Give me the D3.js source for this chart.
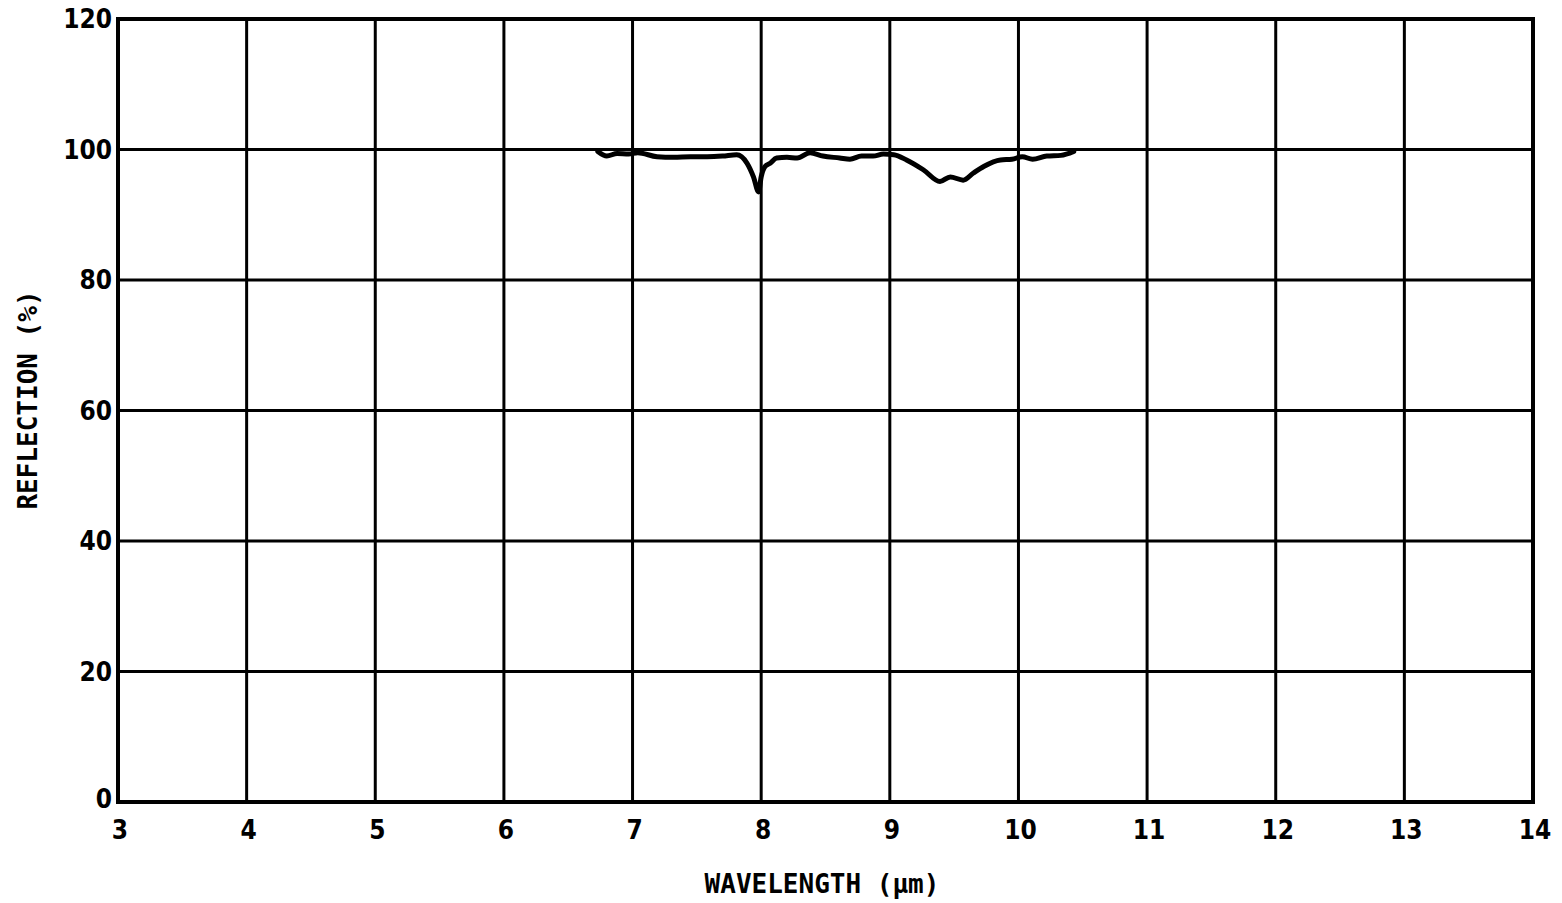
<!DOCTYPE html>
<html><head><meta charset="utf-8">
<script src="https://cdn.jsdelivr.net/npm/d3@7"></script>
<style>body{margin:0;background:#fff}svg{display:block}</style>
</head><body>
<script>
const wavelength = [6.73,6.80,6.88,6.97,7.04,7.19,7.32,7.45,7.58,7.70,7.81,7.89,7.94,7.98,8.00,8.03,8.07,8.12,8.20,8.28,8.38,8.48,8.61,8.69,8.78,8.87,8.95,9.03,9.13,9.26,9.39,9.47,9.57,9.65,9.73,9.86,9.95,10.03,10.11,10.22,10.33,10.43];
const reflection = [99.7,99.0,99.4,99.3,99.5,98.9,98.8,98.9,98.9,99.0,99.2,97.9,95.8,93.5,95.8,97.4,97.9,98.7,98.8,98.7,99.5,99.0,98.7,98.5,99.0,99.0,99.3,99.2,98.4,96.9,95.1,95.8,95.3,96.4,97.4,98.4,98.5,98.9,98.5,99.0,99.1,99.7];
const xTicks = [3,4,5,6,7,8,9,10,11,12,13,14];
const yTicks = [0,20,40,60,80,100,120];
const xTitle = "WAVELENGTH (µm)";
const yTitle = "REFLECTION (%)";

const W = 1562, H = 903;
const m = {l:118, r:29, t:19, b:101};
const svg = d3.select("body").append("svg").attr("width",W).attr("height",H);
const x = d3.scaleLinear().domain([3,14]).range([m.l, W-m.r]);
const y = d3.scaleLinear().domain([0,120]).range([H-m.b, m.t]);

const g = svg.append("g");
g.selectAll("line.vx").data(xTicks).join("line")
  .attr("x1",d=>x(d)).attr("x2",d=>x(d)).attr("y1",y(0)).attr("y2",y(120))
  .attr("stroke","#000").attr("stroke-width",3);
g.selectAll("line.hy").data(yTicks).join("line")
  .attr("y1",d=>y(d)).attr("y2",d=>y(d)).attr("x1",x(3)).attr("x2",x(14))
  .attr("stroke","#000").attr("stroke-width",3);
g.append("rect").attr("x",x(3)).attr("y",y(120)).attr("width",x(14)-x(3)).attr("height",y(0)-y(120))
  .attr("fill","none").attr("stroke","#000").attr("stroke-width",4);

const font = "'DejaVu Sans Condensed','DejaVu Sans',sans-serif";
g.selectAll("text.xt").data(xTicks).join("text")
  .attr("x",d=>x(d)+2).attr("y",y(0)+37).attr("text-anchor","middle")
  .attr("font-family",font).attr("font-weight","bold").attr("font-size",26).text(d=>d);
g.selectAll("text.yt").data(yTicks).join("text")
  .attr("x",x(3)-6).attr("y",d=>y(d)+(d===0?6:9)).attr("text-anchor","end")
  .attr("font-family",font).attr("font-weight","bold").attr("font-size",26).text(d=>d);

const line = d3.line().x((d,i)=>x(wavelength[i])).y(d=>y(d)).curve(d3.curveMonotoneX);
g.append("path").datum(reflection).attr("d",line).attr("fill","none")
  .attr("stroke","#000").attr("stroke-width",5).attr("stroke-linejoin","round").attr("stroke-linecap","round");

const tfont = "'DejaVu Sans Mono',monospace";
svg.append("text").attr("x",822).attr("y",893).attr("text-anchor","middle")
  .attr("font-family",tfont).attr("font-size",26).attr("font-weight","bold").text(xTitle);
svg.append("text").attr("transform","translate(37,400) rotate(-90)").attr("text-anchor","middle")
  .attr("font-family",tfont).attr("font-size",26).attr("font-weight","bold").text(yTitle);
</script>
</body></html>
